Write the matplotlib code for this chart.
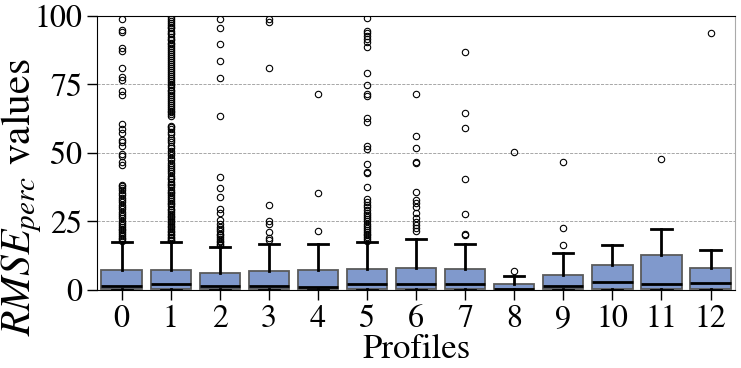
"""Box plot of RMSE_perc values per profile."""

import matplotlib
matplotlib.use("Agg")
import matplotlib.pyplot as plt

plt.rcParams['font.family'] = ['STIXGeneral', 'Liberation Serif', 'DejaVu Serif']
plt.rcParams['mathtext.fontset'] = 'stix'

# box statistics
profiles = list(range(13))
q1 = [0.3, 0.3, 0.3, 0.3, 0.3, 0.3, 0.3, 0.3, 0.2, 0.3, 0.4, 0.3, 0.4]
medians = [1.5, 2.1, 1.6, 1.5, 1.1, 2.2, 2.2, 2.2, 0.5, 1.6, 2.9, 2.3, 2.7]
q3 = [7.3, 7.4, 6.3, 7.0, 7.3, 7.5, 8.1, 7.8, 2.1, 5.6, 9.1, 12.9, 8.1]
whislo = [0, 0, 0, 0, 0, 0, 0, 0, 0, 0, 0, 0, 0]
whishi = [17.4, 17.6, 15.7, 16.9, 16.7, 17.4, 18.6, 16.9, 5.0, 13.4, 16.3, 22.3, 14.7]

# outliers per profile
fliers_0 = [18.0, 18.6, 19.1, 19.8, 20.3, 21.0, 21.7, 22.3, 23.1, 23.8, 24.6, 25.3,
            26.2, 27.0, 27.7, 28.6, 29.4, 30.2, 31.1, 32.0, 32.9, 33.7, 34.6, 35.4,
            36.3, 37.1, 37.8, 38.3, 45.6, 46.6, 48.7, 49.5, 52.7, 53.8, 54.7, 57.4,
            58.6, 60.6, 71.2, 72.7, 76.6, 77.6, 81.1, 87.2, 88.2, 94.0, 94.9, 98.9]
fliers_1 = [18.1, 18.4, 18.9, 19.3, 20.0, 20.6, 21.2, 21.5, 22.3, 22.9, 23.4, 24.1,
            24.8, 25.2, 25.9, 26.7, 27.1, 27.8, 28.6, 29.3, 29.7, 30.5, 31.3, 31.8,
            32.4, 33.2, 33.9, 34.5, 35.3, 35.8, 36.6, 37.4, 38.2, 38.7, 39.5, 40.3,
            41.0, 41.6, 42.5, 43.3, 44.0, 44.8, 45.7, 46.3, 47.4, 48.2, 49.1, 50.0,
            50.8, 51.9, 52.6, 53.8, 54.7, 55.6, 56.9, 57.8, 58.6, 59.5, 59.9, 63.4,
            64.1, 64.8, 65.3, 66.1, 66.9, 67.4, 68.2, 68.8, 69.7, 70.3, 71.0, 71.8,
            72.5, 73.1, 73.9, 74.6, 75.2, 76.0, 76.7, 77.3, 78.1, 78.9, 79.4, 80.2,
            81.0, 81.6, 82.3, 83.2, 83.8, 84.5, 85.3, 85.9, 86.8, 87.4, 88.1, 88.9,
            89.6, 90.2, 91.1, 91.7, 92.4, 93.3, 93.9, 94.6, 95.4, 96.0, 96.8, 97.5,
            98.1, 98.9, 99.6]
fliers_2 = [16.4, 16.9, 17.5, 18.0, 18.6, 19.3, 19.9, 20.6, 21.4, 22.3, 23.0, 24.1,
            25.5, 28.0, 29.6, 33.9, 37.3, 41.1, 63.3, 77.3, 83.6, 89.7, 95.7, 98.9]
fliers_3 = [18.2, 19.1, 21.3, 24.2, 25.3, 31.0, 80.8, 97.6, 98.9]
fliers_4 = [21.6, 35.4, 71.4]
fliers_5 = [18.0, 18.6, 19.2, 19.9, 20.5, 21.3, 22.0, 22.6, 23.4, 24.2, 25.0, 25.8,
            26.5, 27.3, 28.2, 29.0, 30.1, 31.0, 32.2, 33.1, 37.7, 42.8, 43.2, 46.0,
            51.5, 52.4, 61.1, 62.7, 70.6, 71.4, 74.8, 79.2, 88.8, 90.6, 91.6, 92.5,
            93.7, 94.3, 99.2]
fliers_6 = [21.6, 22.7, 23.7, 24.9, 26.2, 28.0, 30.2, 31.6, 32.8, 35.9, 46.4, 46.6,
            51.7, 56.2, 71.5]
fliers_7 = [20.1, 20.3, 27.7, 40.4, 59.2, 64.4, 86.7]
fliers_8 = [6.9, 50.5]
fliers_9 = [16.3, 22.7, 46.6]
fliers_10 = []
fliers_11 = [47.9]
fliers_12 = [93.8]
fliers = [fliers_0, fliers_1, fliers_2, fliers_3, fliers_4, fliers_5, fliers_6,
          fliers_7, fliers_8, fliers_9, fliers_10, fliers_11, fliers_12]

stats = []
for i in profiles:
    stats.append({
        'q1': q1[i], 'med': medians[i], 'q3': q3[i],
        'whislo': whislo[i], 'whishi': whishi[i], 'fliers': fliers[i],
    })

fig = plt.figure(figsize=(7.41, 3.68), dpi=100)
ax = fig.add_axes([0.131, 0.212, 0.861, 0.745])

ax.bxp(
    stats, positions=profiles, widths=0.82, patch_artist=True,
    boxprops=dict(facecolor='#8099cc', edgecolor='#5a5a5a', linewidth=1.3),
    medianprops=dict(color='black', linewidth=2.0),
    whiskerprops=dict(color='black', linewidth=2.0),
    capprops=dict(color='black', linewidth=2.0),
    flierprops=dict(marker='o', markersize=4.6, markerfacecolor='none',
                    markeredgecolor='black', markeredgewidth=0.8),
)

ax.set_xlim(-0.5, 12.5)
ax.set_ylim(0, 100)
ax.set_yticks([0, 25, 50, 75, 100])
ax.set_xticks(profiles)
ax.set_xticklabels([str(p) for p in profiles])
ax.yaxis.grid(True, linestyle='--', color='#999999', linewidth=0.6)
ax.set_axisbelow(True)

ax.tick_params(axis='both', labelsize=23, length=7, width=1)
ax.spines['right'].set_color('#aaaaaa')

ax.set_xlabel('Profiles', fontsize=25, labelpad=0)
ax.set_ylabel(r'$RMSE_{perc}$ values', fontsize=30)
ax.yaxis.set_label_coords(-0.083, 0.34)

fig.savefig('out.png', dpi=100)
